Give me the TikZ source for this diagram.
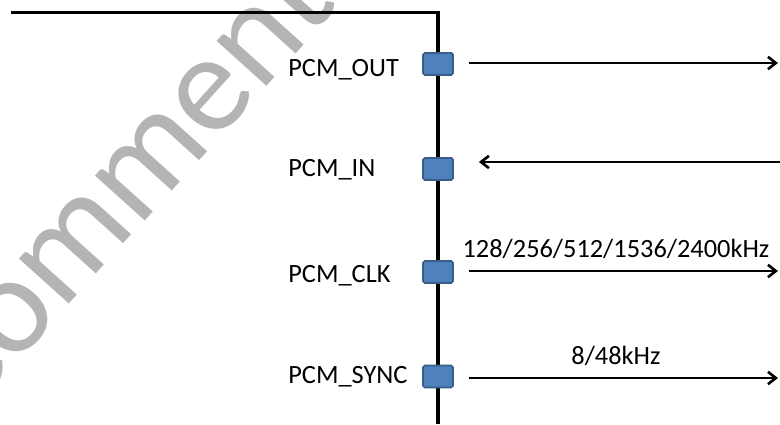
\documentclass[tikz,border=0pt]{standalone}
\usepackage{fontspec}
\setmainfont{Carlito}
\usetikzlibrary{arrows.meta, positioning, calc}
\definecolor{padblue}{HTML}{4F81BD}
\definecolor{padedge}{HTML}{385D8A}
\definecolor{wmgray}{HTML}{B4B4B4}
\tikzstyle{arrow} = [line width=1.5pt, -{Straight Barb[length=4.5pt, width=7pt]}]

\begin{document}
\begin{tikzpicture}[
  font=\fontsize{15}{18}\selectfont,
  pad/.style={draw=padedge, fill=padblue, line width=1pt, rounded corners=1pt, minimum width=0.6cm, minimum height=0.44cm, inner sep=0pt},
  lbl/.style={anchor=base west, inner sep=0pt},
  rate/.style={midway, above=3pt},
  frame/.style={line width=1.9pt},
  wmark/.style={text=wmgray, anchor=base west, rotate=48, inner sep=0pt, font=\fontsize{80}{80}\selectfont}
]
\useasboundingbox (0,0) rectangle (15.6,-8.5);

% Watermark (clipped)
\begin{scope}
\clip (0,0) rectangle (15.6,-8.5);
\node[wmark] (wm) at (-0.74,-8.46) {Comment};
\end{scope}

% Chip edge
\coordinate (tl) at (0.22,-0.25);
\coordinate (tr) at (8.76,-0.25);
\coordinate (br) at (8.76,-8.48);
\draw[frame] (tl) -- (tr) -- (br);

% Pads on the edge
\node[pad] (pout)  at (8.76,-1.28) {};
\node[pad] (pinp)  at (8.76,-3.38) {};
\node[pad] (pclk)  at (8.76,-5.44) {};
\node[pad] (psync) at (8.76,-7.53) {};

% Pad names
\node[lbl] (lout)  at (5.76,-1.53) {PCM\_OUT};
\node[lbl] (lin)   at (5.76,-3.53) {PCM\_IN};
\node[lbl] (lclk)  at (5.76,-5.66) {PCM\_CLK};
\node[lbl] (lsync) at (5.76,-7.66) {PCM\_SYNC};

% Signals
\coordinate (eout)  at (15.56,-1.26);
\coordinate (ein)   at (15.6,-3.24);
\coordinate (eclk)  at (15.56,-5.42);
\coordinate (esync) at (15.56,-7.56);

\draw[arrow, shorten <=0.3cm] (eout -| pout.east) -- (eout);
\draw[arrow, shorten >=0.5cm] (ein) -- (ein -| pinp.east);
\draw[arrow, shorten <=0.3cm] (eclk -| pclk.east) -- (eclk)
  node[rate] {128/256/512/1536/2400kHz};
\draw[arrow, shorten <=0.3cm] (esync -| psync.east) -- (esync)
  node[rate] {8/48kHz};

\end{tikzpicture}
\end{document}
